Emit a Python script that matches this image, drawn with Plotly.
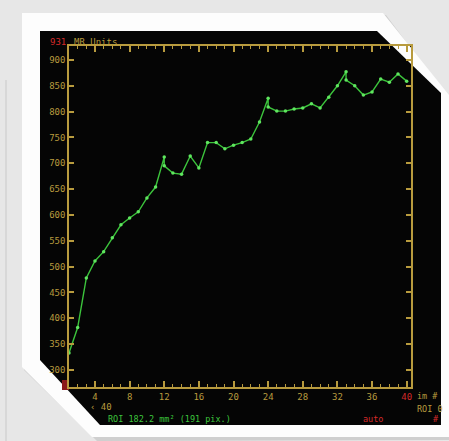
import plotly.graph_objects as go

# ---- data ----
frame_no = [1, 2, 3, 4, 5, 6, 7, 8, 9, 10, 11, 12, 12, 13, 14, 15, 16, 17, 18, 19, 20,
            21, 22, 23, 24, 24, 25, 26, 27, 28, 29, 30, 31, 32, 33, 33, 34, 35, 36,
            37, 38, 39, 40]
signal = [333, 382, 478, 511, 529, 556, 581, 594, 606, 633, 654, 712, 695, 681, 679,
          714, 691, 740, 740, 728, 735, 740, 747, 780, 826, 809, 801, 801, 805, 807,
          815, 807, 828, 850, 877, 861, 850, 832, 838, 863, 857, 873, 859]
x_tickvals = [4, 8, 12, 16, 20, 24, 28, 32, 36, 40]
x_ticktext = ["4", "8", "12", "16", "20", "24", "28", "32", "36",
              "<span style='color:#d42a2a'>40</span>"]
y_tickvals = [300, 350, 400, 450, 500, 550, 600, 650, 700, 750, 800, 850, 900]
y_top_label = "931"
y_unit = "MR Units"
roi_text = "ROI 182.2 mm² (191 pix.)"

W, H = 449, 441
L, R, T, B = 69, 38, 46, 54
PW, PH = W - L - R, H - T - B
GOLD = "#b89b3e"
RED = "#d42a2a"
GREEN = "#3cc43c"
MONO = "DejaVu Sans Mono"
PAGE = "#e7e7e7"


def px(x):
    return (x - L) / PW


def py(y):
    return (H - B - y) / PH


def path(points):
    s = "M " + " L ".join(f"{px(a):.5f},{py(b):.5f}" for a, b in points) + " Z"
    return s


fig = go.Figure()
fig.add_trace(go.Scatter(
    x=frame_no, y=signal, mode="lines+markers",
    line=dict(color=GREEN, width=1.4),
    marker=dict(color="#5fe65f", size=3.5),
    hoverinfo="skip", showlegend=False,
))

shapes = [
    # shadow line on page
    dict(type="line", xref="paper", yref="paper", x0=px(6), x1=px(6), y0=py(80), y1=py(441),
         line=dict(color="#c9c9c9", width=1), layer="below"),
    # white frame shadow
    dict(type="path", xref="paper", yref="paper", layer="below",
         path=path([(24, 15), (386, 15), (449, 99), (449, 440), (97, 441), (24, 370)]),
         fillcolor="#cfcfcf", line=dict(width=0)),
    # white frame
    dict(type="path", xref="paper", yref="paper", layer="below",
         path=path([(22, 13), (383, 13), (449, 95), (449, 437), (92, 437), (22, 367)]),
         fillcolor="#fdfdfd", line=dict(width=0)),
    # black screen
    dict(type="path", xref="paper", yref="paper", layer="below",
         path=path([(40, 31), (377, 31), (441, 93), (441, 425), (100, 425), (40, 360)]),
         fillcolor="#050505", line=dict(width=0)),
    # small red marker at lower left
    dict(type="rect", xref="paper", yref="paper", layer="below",
         x0=px(62), x1=px(69), y0=py(390), y1=py(380),
         fillcolor="#8a1a1a", line=dict(width=0)),
]

annotations = [
    dict(text=y_top_label, x=px(68), y=py(42), xanchor="right", yanchor="middle",
         font=dict(family=MONO, size=9, color=RED)),
    dict(text=y_unit, x=px(72), y=py(42), xanchor="left", yanchor="middle",
         font=dict(family=MONO, size=9, color=GOLD)),
    dict(text="‹ 40", x=px(88), y=py(407), xanchor="left", yanchor="middle",
         font=dict(family=MONO, size=9, color=GOLD)),
    dict(text=roi_text, x=px(106), y=py(419), xanchor="left", yanchor="middle",
         font=dict(family=MONO, size=8.5, color=GREEN)),
    dict(text="im #", x=px(415), y=py(396), xanchor="left", yanchor="middle",
         font=dict(family=MONO, size=8.5, color=GOLD)),
    dict(text="ROI 0", x=px(415), y=py(409), xanchor="left", yanchor="middle",
         font=dict(family=MONO, size=8.5, color=GOLD)),
    dict(text="auto", x=px(361), y=py(419), xanchor="left", yanchor="middle",
         font=dict(family=MONO, size=8.5, color=RED)),
    dict(text="#", x=px(431), y=py(419), xanchor="left", yanchor="middle",
         font=dict(family=MONO, size=8.5, color=RED)),
]
for a in annotations:
    a.update(xref="paper", yref="paper", showarrow=False)

fig.update_layout(
    width=W, height=H,
    margin=dict(l=L, r=R, t=T, b=B, pad=0),
    paper_bgcolor=PAGE,
    plot_bgcolor="#050505",
    shapes=shapes,
    annotations=annotations,
    xaxis=dict(
        range=[1, 40.5], showgrid=False, zeroline=False,
        showline=True, linecolor=GOLD, linewidth=1.5, mirror="ticks",
        ticks="inside", ticklen=6, tickcolor=GOLD, tickwidth=1.5,
        tickvals=x_tickvals, ticktext=x_ticktext,
        tickfont=dict(family=MONO, size=9, color=GOLD),
        minor=dict(dtick=1, tick0=0, ticks="inside", ticklen=3, tickcolor=GOLD, tickwidth=1),
    ),
    yaxis=dict(
        range=[267, 927], showgrid=False, zeroline=False,
        showline=True, linecolor=GOLD, linewidth=1.5, mirror="ticks",
        ticks="inside", ticklen=5, tickcolor=GOLD, tickwidth=1.5,
        tickvals=y_tickvals,
        tickfont=dict(family=MONO, size=9, color=GOLD),
        ticklabelstandoff=0,
    ),
)

fig.write_html(
    "out.html",
    config={"displayModeBar": False},
    post_script=(
        "document.body.style.margin='0';"
        "document.body.style.overflow='hidden';"
        f"document.body.style.background='{PAGE}';"
    ),
)
